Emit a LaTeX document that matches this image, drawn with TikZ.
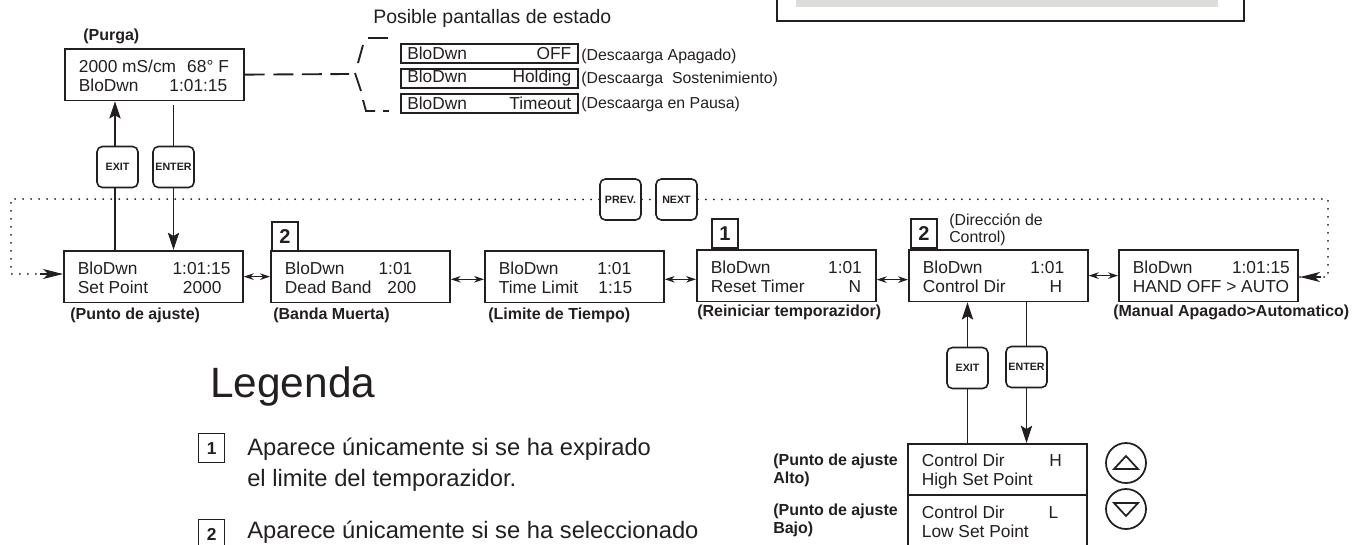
\documentclass[tikz,border=0pt]{standalone}
\usepackage{fontspec}
\setmainfont{Liberation Sans}
\usepackage{xcolor}
\usetikzlibrary{calc,arrows.meta}

\definecolor{ink}{HTML}{231F20}
\definecolor{panel}{HTML}{DDDDDC}

\newdimen\pxu
\pxu=0.75pt
\newcommand{\lcdrow}[3]{\makebox[#1\pxu][s]{#2\hfill #3}}

\tikzset{
  lcd/.style={draw, line width=1.3pt, anchor=north west, inner xsep=0pt, inner ysep=0pt,
    minimum height=51.5*0.75pt, minimum width=179*0.75pt, font=\fontsize{13}{14.25}\selectfont},
  status/.style={draw, line width=1.2pt, anchor=north west, inner sep=0pt,
    minimum height=19*0.75pt, minimum width=177*0.75pt, font=\fontsize{13}{14}\selectfont},
  keycap/.style={draw, fill=white, line width=1.2pt, rounded corners=4pt, inner sep=0pt,
    minimum size=41*0.75pt, font=\bfseries\fontsize{8}{9}\selectfont},
  badge/.style={draw, line width=1.3pt, anchor=north west, inner sep=0pt,
    minimum height=29*0.75pt, minimum width=26*0.75pt, font=\bfseries\fontsize{15}{16}\selectfont},
  legbadge/.style={badge, line width=1pt, font=\bfseries\fontsize{13}{14}\selectfont},
  caption/.style={anchor=base west, inner sep=0pt, font=\bfseries\fontsize{12}{14}\selectfont},
  plain/.style={anchor=base west, inner sep=0pt, font=\fontsize{11.9}{14}\selectfont},
  legtext/.style={anchor=base west, inner sep=0pt, font=\fontsize{17.8}{20}\selectfont},
  feed/.style={line width=0.8pt},
  bigtip/.style={feed, -{Stealth[length=13pt,width=8.5pt,inset=2.5pt]}},
  twoway/.style={line width=0.8pt, {Stealth[length=7.5pt,width=5pt]}-{Stealth[length=7.5pt,width=5pt]}},
  loopline/.style={line width=1.5pt, line cap=round, dash pattern=on 0pt off 6pt},
  dashline/.style={line width=1.4pt, dash pattern=on 15pt off 6.4pt},
  branch/.style={line width=1.4pt}
}

\begin{document}
\begin{tikzpicture}[x=0.75pt, y=-0.75pt, color=ink]

\useasboundingbox (0,0) rectangle (1367,544);
\clip (0,0) rectangle (1367,544);

% panel at the top
\draw[line width=1.5pt] (777,-10) rectangle (1244,21);
\fill[panel] (796,-5) rectangle (1218,7);

% screens
\foreach \nm/\px/\py/\wa/\ta/\va/\wb/\tb/\vb in {
  purga/64/48/150/{2000 mS/cm}/{68° F}/148.4/BloDwn/{1:01:15},
  setp/63/250/152.6/BloDwn/{1:01:15}/143.6/{Set Point}/2000,
  deadb/270/250/127.5/BloDwn/{1:01}/131.5/{Dead Band}/200,
  timel/484/250/132.3/BloDwn/{1:01}/133.3/{Time Limit}/{1:15},
  reset/696/249/151/BloDwn/{1:01}/150.3/{Reset Timer}/N,
  ctrl/908/249/141.3/BloDwn/{1:01}/139.3/{Control Dir}/H,
  hand/1118/249/157/BloDwn/{1:01:15}/157/{HAND OFF > AUTO}/{},
  high/907/443/140/{Control Dir}/H/120/{High Set Point}/{},
  low/907/494/136.5/{Control Dir}/L/120/{Low Set Point}/{}
} {
  \node[lcd] (\nm) at (\px,\py) {\hspace*{14\pxu}\parbox{165\pxu}{\vspace*{2.5pt}\lcdrow{\wa}{\ta}{\va}\\\lcdrow{\wb}{\tb}{\vb}}};
}

% possible states
\foreach \nm/\py/\tb/\vb/\yb/\lb in {
  stoff/43/BloDwn/OFF/60/{(Descaarga Apagado)},
  sthold/68/BloDwn/Holding/83/{(Descaarga\ \ Sostenimiento)},
  sttime/93/BloDwn/Timeout/108/{(Descaarga en Pausa)}
} {
  \node[status] (\nm) at (400,\py) {\raisebox{-1.2pt}{\lcdrow{164}{\tb}{\vb}}};
  \node[plain] (\nm lb) at (581,\yb) {\lb};
}

% keys
\node[keycap] (exita) at (117.5,167) {EXIT};
\node[keycap] (entera) at (173.5,167) {ENTER};
\node[keycap] (prev) at (620.5,199.5) {PREV.};
\node[keycap] (next) at (676.5,199.5) {NEXT};
\node[keycap] (exitb) at (967.5,368) {EXIT};
\node[keycap] (enterb) at (1026.5,367) {ENTER};

% numbered tags
\node[badge] (tagb) at (271,221) {2};
\node[badge] (taga) at (711,218) {1};
\node[badge] (tagc) at (910,218) {2};
\node[legbadge] (lega) at (198,433) {1};
\node[legbadge] (legb) at (198,519) {2};

% captions
\foreach \nm/\px/\py/\lb in {
  cpurga/83/40/(Purga),
  csetp/70/319/(Punto de ajuste),
  cdeadb/273/319/(Banda Muerta),
  ctimel/488/319/(Limite de Tiempo),
  creset/697/316/(Reiniciar temporazidor),
  chand/1113/316/(Manual Apagado>Automatico),
  chigha/773/465/(Punto de ajuste,
  chighb/773/483/Alto),
  clowa/773/515/(Punto de ajuste,
  clowb/773/533/Bajo)
} {
  \node[caption] (\nm) at (\px,\py) {\lb};
}

\node[plain] (cctrla) at (949,225) {(Dirección de};
\node[plain] (cctrlb) at (949,242) {Control)};
\node[anchor=base west, inner sep=0pt, font=\fontsize{14.6}{16}\selectfont] (title) at (373,23) {Posible pantallas de estado};

% legend
\node[anchor=base west, inner sep=0pt, font=\fontsize{31.8}{34}\selectfont] (legend) at (210,397) {Legenda};
\node[legtext] (lega1) at (247,455) {Aparece únicamente si se ha expirado};
\node[legtext] (lega2) at (247,486) {el limite del temporazidor.};
\node[legtext] (legb1) at (247,538) {Aparece únicamente si se ha seleccionado};

% up and down buttons
\node[draw, circle, line width=1.3pt, minimum size=40*0.75pt, inner sep=0pt] (up) at (1126,463) {};
\node[draw, circle, line width=1.3pt, minimum size=40*0.75pt, inner sep=0pt] (down) at (1126,509) {};
\draw[line width=1.3pt] ($(up)+(-12,6)$) -- ($(up)+(0,-7)$) -- ($(up)+(12,6)$) -- cycle;
\draw[line width=1.3pt] ($(down)+(-12,-6)$) -- ($(down)+(0,7)$) -- ($(down)+(12,-6)$) -- cycle;

% feeds through the keys
\coordinate (exitx) at (115,167);
\draw[feed] (setp.north -| exitx) -- (exita.south -| exitx);
\draw[bigtip] (exita.north -| exitx) -- (purga.south -| exitx);
\draw[feed] ($(purga.south -| entera)+(0,4)$) -- (entera);
\draw[bigtip] (entera) -- (setp.north -| entera);
\draw[feed] (high.north -| exitb) -- (exitb);
\draw[bigtip] (exitb) -- (ctrl.south -| exitb);
\draw[feed] (ctrl.south -| enterb) -- (enterb);
\draw[bigtip] (enterb) -- (high.north -| enterb);

% neighbours
\draw[twoway] (setp.east) -- (deadb.west);
\draw[twoway] ([yshift=-2pt]deadb.east) -- ([yshift=-2pt]timel.west);
\draw[twoway] ([yshift=-2pt]timel.east) -- ([yshift=-2pt]timel.east -| reset.west);
\draw[twoway] ([yshift=-3pt]reset.east) -- ([yshift=-3pt]ctrl.west);
\draw[twoway] (ctrl.east) -- (hand.west);

% dotted loop
\coordinate (loopa) at (11,199);
\coordinate (loopb) at (11,274);
\coordinate (loopc) at (1328,199);
\coordinate (loopd) at (1328,277);
\coordinate (loope) at (1300,277);
\draw[loopline] (prev) -- (loopa) -- (loopb) -- (loopb -| setp.west);
\draw[loopline] (next) -- (loopc) -- (loopd) -- (loope);
\draw[loopline] (prev) -- (next);
\draw[-{Stealth[length=15pt,width=7.5pt,inset=4pt]}, feed] (40,274) -- (loopb -| setp.west);
\draw[-{Stealth[length=15pt,width=7.5pt,inset=4pt]}, feed] (1321,277) -- (loope);

% dashed branch
\coordinate (brancha) at (349,74);
\draw[dashline] (purga.east) -- (brancha);
\foreach \xa/\ya/\xb/\yb in {368/38/388/38, 363/45/358/63, 355/73/361/91, 383/111/389/111} {
  \draw[branch] (\xa,\ya) -- (\xb,\yb);
}
\draw[branch] (363,100) -- (366,111) -- (375,111);

\end{tikzpicture}
\end{document}
